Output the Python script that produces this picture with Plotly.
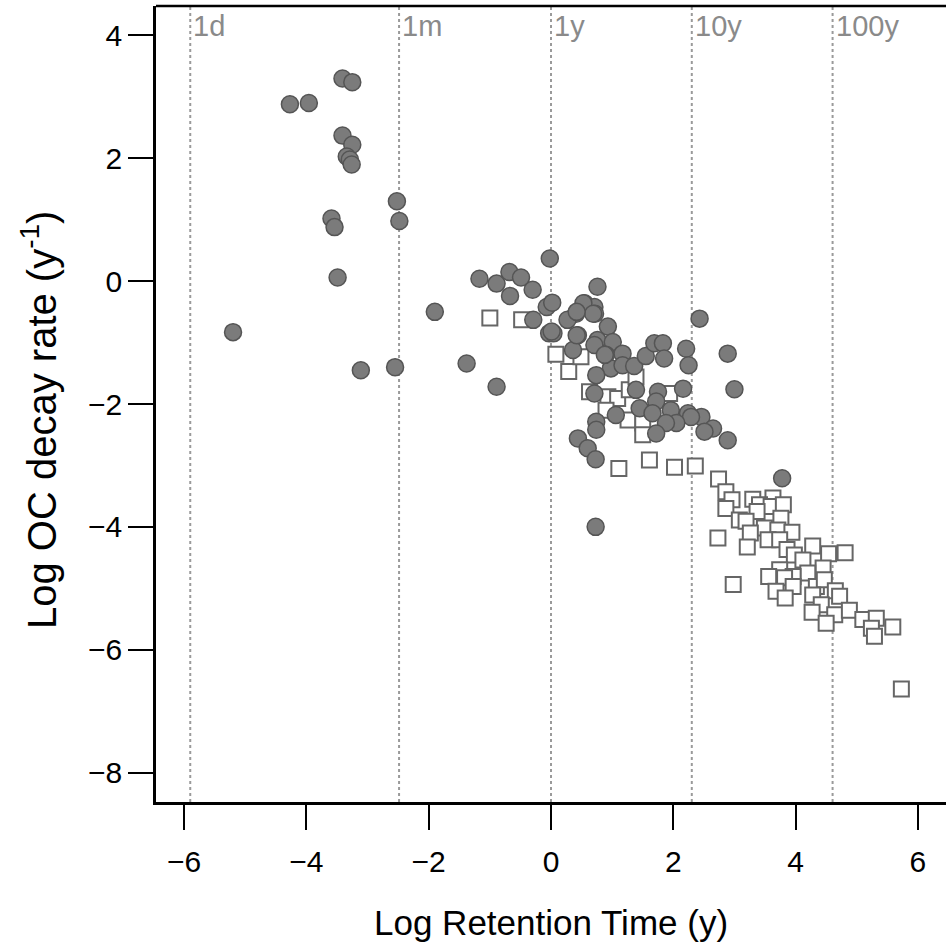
import plotly.graph_objects as go
import numpy as np

# Filled circles (log retention time, log decay rate)
circ_x = [-5.20, -4.27, -3.96, -3.41, -3.25, -3.41, -3.25, -3.34, -3.29, -3.26,
          -3.59, -3.54, -2.52, -2.48, -3.49, -1.17, -0.89, -0.68, -0.49, -0.30,
          -0.67, -0.02, -1.90, -3.11, -2.55, -1.38, -0.89, -0.29, -0.07, -0.03,
          0.76, 0.02, 0.55, 0.71, 0.41, 0.72, 0.27, 0.04, 0.93, 0.44,
          0.76, 1.01, 0.36, 0.71, 0.90, 1.17, 0.98, 1.17, 1.36, 1.55,
          1.69, 1.83, 1.85, 2.21, 2.25, 2.43, 2.89, 3.00, 0.74, 0.71,
          1.39, 1.75, 2.16, 1.72, 1.45, 1.96, 1.66, 1.06, 2.24, 2.46,
          2.29, 2.05, 1.88, 2.65, 2.51, 1.72, 0.74, 0.74, 0.44, 0.60,
          0.73, 2.89, 3.78, 0.73, 0.53, 0.69, 0.42, 0.01, 0.42, 0.88]
circ_y = [-0.83, 2.88, 2.90, 3.30, 3.24, 2.37, 2.22, 2.03, 1.98, 1.90,
          1.02, 0.88, 1.30, 0.98, 0.06, 0.04, -0.04, 0.15, 0.06, -0.14,
          -0.24, 0.37, -0.50, -1.45, -1.40, -1.34, -1.72, -0.63, -0.42, -0.85,
          -0.09, -0.35, -0.36, -0.42, -0.53, -0.53, -0.63, -0.85, -0.74, -0.88,
          -0.96, -0.99, -1.12, -1.04, -1.20, -1.18, -1.42, -1.37, -1.38, -1.22,
          -1.01, -1.01, -1.26, -1.10, -1.37, -0.61, -1.18, -1.76, -1.53, -1.83,
          -1.77, -1.80, -1.75, -1.96, -2.07, -2.10, -2.15, -2.18, -2.15, -2.21,
          -2.21, -2.31, -2.31, -2.40, -2.45, -2.48, -2.29, -2.42, -2.56, -2.72,
          -2.90, -2.59, -3.21, -4.00, -0.36, -0.53, -0.50, -0.82, -0.88, -1.20]

# Open squares
sq_x = [-1.00, -0.48, 0.08, 0.29, 0.49, 0.63, 0.93, 1.09, 0.90, 1.28,
        1.39, 1.26, 1.50, 1.50, 1.94, 1.11, 1.61, 2.02, 2.36, 2.74,
        2.86, 2.96, 2.86, 3.30, 3.63, 3.41, 3.60, 3.80, 3.37, 3.08,
        3.19, 3.76, 3.49, 3.26, 3.71, 3.94, 2.73, 3.21, 3.55, 3.74,
        3.86, 3.98, 4.28, 4.54, 4.81, 4.12, 3.74, 4.45, 3.56, 4.20,
        3.96, 3.82, 3.96, 4.34, 4.47, 2.98, 3.68, 3.83, 4.28, 4.65,
        4.72, 4.42, 4.27, 4.64, 4.50, 4.88, 5.10, 5.32, 5.24, 5.29,
        5.59, 5.73]
sq_y = [-0.60, -0.63, -1.19, -1.47, -1.23, -1.80, -1.88, -1.91, -2.10, -1.77,
        -1.56, -2.26, -2.31, -2.50, -1.83, -3.05, -2.91, -3.03, -3.01, -3.22,
        -3.43, -3.56, -3.70, -3.55, -3.53, -3.64, -3.67, -3.64, -3.75, -3.89,
        -3.91, -3.86, -4.02, -4.10, -4.05, -4.09, -4.18, -4.33, -4.21, -4.21,
        -4.37, -4.46, -4.31, -4.44, -4.42, -4.54, -4.70, -4.67, -4.81, -4.75,
        -4.81, -4.83, -4.97, -4.97, -4.86, -4.94, -5.05, -5.16, -5.11, -5.04,
        -5.13, -5.27, -5.39, -5.43, -5.57, -5.36, -5.51, -5.49, -5.65, -5.78,
        -5.63, -6.64]

ref_labels = ["1d", "1m", "1y", "10y", "100y"]
ref_years = [1/365, 1/12, 1, 10, 100]
ref_x = [float(np.log(v)) for v in ref_years]

x_ticks = [-6, -4, -2, 0, 2, 4, 6]
y_ticks = [4, 2, 0, -2, -4, -6, -8]

FONT = "Liberation Sans, Arial, sans-serif"

fig = go.Figure()
fig.add_trace(go.Scatter(
    x=sq_x, y=sq_y, mode="markers",
    marker=dict(symbol="square", size=15, color="white",
                line=dict(color="#666666", width=2)),
    showlegend=False))
fig.add_trace(go.Scatter(
    x=circ_x, y=circ_y, mode="markers",
    marker=dict(symbol="circle", size=17, color="#7b7b7b",
                line=dict(color="#555555", width=1.5)),
    showlegend=False))

for xv, lab in zip(ref_x, ref_labels):
    fig.add_shape(type="line", xref="x", yref="paper", x0=xv, x1=xv, y0=0, y1=1,
                  line=dict(color="#9a9a9a", width=2, dash="dot"), layer="below")
    fig.add_annotation(x=xv, y=1, xref="x", yref="paper", text=lab,
                       showarrow=False, xanchor="left", yanchor="top",
                       xshift=1, yshift=-2,
                       font=dict(family=FONT, size=29, color="#8a8a8a"))

# top frame line
fig.add_shape(type="line", xref="paper", yref="paper", x0=0, x1=1, y0=1, y1=1,
              line=dict(color="black", width=2.5))

fig.add_annotation(x=0.5, y=-0.152, xref="paper", yref="paper",
                   text="Log Retention Time (y)", showarrow=False,
                   xanchor="center", yanchor="middle",
                   font=dict(family=FONT, size=35, color="black"))
fig.add_annotation(x=-0.148, y=0.48, xref="paper", yref="paper",
                   text="Log OC decay rate (y<sup>-1</sup>)", showarrow=False,
                   textangle=-90, xanchor="center", yanchor="middle",
                   font=dict(family=FONT, size=40, color="black"))

fig.update_layout(
    width=946, height=950,
    margin=dict(l=156, r=0, t=6, b=148),
    plot_bgcolor="white", paper_bgcolor="white",
    font=dict(family=FONT, size=30, color="black"),
    xaxis=dict(range=[-6.46, 6.46], tickvals=x_ticks, showgrid=False,
               zeroline=False, showline=True, linecolor="black", linewidth=2.5,
               ticks="outside", ticklen=25, tickwidth=2,
               tickcolor="black", ticklabelstandoff=6,
               tickfont=dict(family=FONT, size=30)),
    yaxis=dict(range=[-8.48, 4.48], tickvals=y_ticks, showgrid=False,
               zeroline=False, showline=True, linecolor="black", linewidth=2.5,
               ticks="outside", ticklen=25, tickwidth=2, tickcolor="black",
               ticklabelstandoff=0,
               tickfont=dict(family=FONT, size=30)),
)

fig.write_html("out.html")
